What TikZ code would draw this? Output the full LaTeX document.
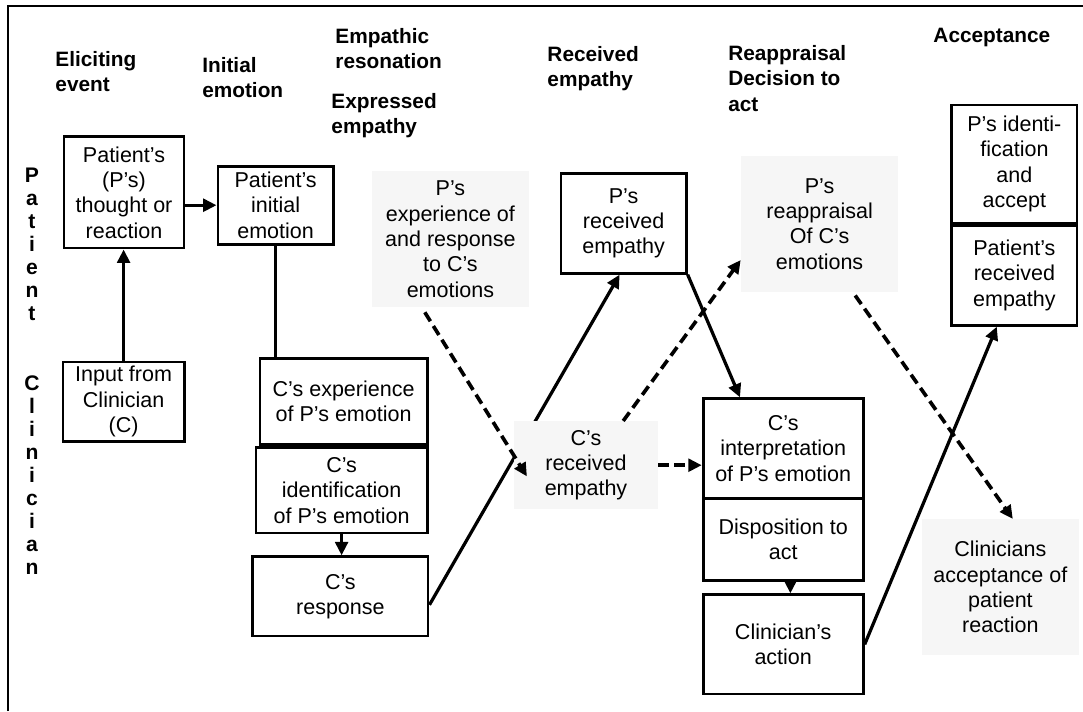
\documentclass[tikz,border=0pt]{standalone}
\usepackage{fontspec}
\setmainfont{Liberation Sans}
\usetikzlibrary{arrows.meta,backgrounds}
\definecolor{shade}{gray}{0.965}
\begin{document}
\begin{tikzpicture}[line cap=butt, line join=miter,
    box/.style={draw, line width=2.1pt, align=center, inner sep=2pt,
      font={\fontsize{15.3}{18}\selectfont}},
    gbox/.style={fill=shade, align=center, inner sep=2pt,
      font={\fontsize{15.3}{18}\selectfont}},
    head/.style={anchor=north west, align=left, inner sep=0pt,
      font={\fontsize{14.8}{18}\selectfont\bfseries}},
    side/.style={align=center, inner sep=0pt,
      font={\fontsize{15}{16.4}\selectfont\bfseries}},
    arr/.style={line width=2.3pt, -{Triangle[length=9.5pt,width=9pt]}},
    ln/.style={line width=2.3pt},
    darr/.style={line width=2.6pt, dash pattern=on 7.5pt off 4pt,
      -{Triangle[length=9.5pt,width=9pt]}}]
  \useasboundingbox (0,0) rectangle (27.075,-17.775);
  \draw[line width=2pt] (0.2,-17.775) -- (0.2,-0.15) -- (27.075,-0.15);
  \node[head] (hElicit) at (1.38,-1.27) {Eliciting\\event};
  \node[head] (hInit) at (5.05,-1.43) {Initial\\emotion};
  \node[head] (hReson) at (8.38,-0.7) {Empathic\\resonation};
  \node[head] (hExpr) at (8.28,-2.33) {Expressed\\empathy};
  \node[head] (hRecv) at (13.68,-1.15) {Received\\empathy};
  \node[head] (hReapp) at (18.2,-1.13) {Reappraisal\\Decision to\\act};
  \node[head] (hAccept) at (23.33,-0.7) {Acceptance};
  \node[side] (pside) at (0.8,-6.1) {P\\a\\t\\i\\e\\n\\t};
  \node[side] (cside) at (0.8,-11.88) {C\\l\\i\\n\\i\\c\\i\\a\\n};
  \node[box, minimum width=3cm, minimum height=2.78cm] (pthought) at (3.1,-4.81)
    {Patient's\\(P's)\\thought or\\reaction};
  \node[box, minimum width=2.88cm, minimum height=1.95cm] (pinit) at (6.89,-5.13)
    {Patient's\\initial\\emotion};
  \node[box, minimum width=3.03cm, minimum height=1.98cm] (cinput) at (3.09,-10.04)
    {Input from\\Clinician\\(C)};
  \node[box, minimum width=4.18cm, minimum height=2.15cm] (cexp) at (8.59,-10.03)
    {C's experience\\of P's emotion};
  \node[box, minimum width=4.28cm, minimum height=2.13cm] (cident) at (8.54,-12.26)
    {C's\\identification\\of P's emotion};
  \node[box, minimum width=4.38cm, minimum height=1.98cm] (cresp) at (8.51,-14.91)
    {C's\\response};
  \node[gbox, minimum width=3.93cm, minimum height=3.4cm] (pexp) at (11.26,-5.98)
    {P's\\experience of\\and response\\to C's\\emotions};
  \node[box, minimum width=3.13cm, minimum height=2.5cm] (prec) at (15.59,-5.58)
    {P's\\received\\empathy};
  \node[gbox, minimum width=3.6cm, minimum height=2.2cm] (crec) at (14.65,-11.63)
    {C's\\received\\empathy};
  \node[gbox, minimum width=3.93cm, minimum height=3.4cm] (preapp) at (20.49,-5.6)
    {P's\\reappraisal\\Of C's\\emotions};
  \node[box, minimum width=3.13cm, minimum height=2.95cm] (pidacc) at (25.36,-4.1)
    {P's identi-\\fication\\and\\accept};
  \node[box, minimum width=3.13cm, minimum height=2.5cm] (precemp) at (25.36,-6.88)
    {Patient's\\received\\empathy};
  \node[box, minimum width=4cm, minimum height=2.48cm] (cinterp) at (19.58,-11.21)
    {C's\\interpretation\\of P's emotion};
  \node[box, minimum width=4cm, minimum height=2.05cm] (cdisp) at (19.58,-13.48)
    {Disposition to\\act};
  \node[box, minimum width=4cm, minimum height=2.48cm] (cact) at (19.58,-16.11)
    {Clinician's\\action};
  \node[gbox, minimum width=3.93cm, minimum height=3.4cm] (cacc) at (25.01,-14.68)
    {Clinicians\\acceptance of\\patient\\reaction};
  \begin{pgfonlayer}{background}
    \draw[arr] ([yshift=-0.21cm]cresp.east) -- ([xshift=-0.1cm]prec.south);
  \end{pgfonlayer}
  \draw[arr] (pthought.east |- pinit.west) -- (pinit.west);
  \draw[arr] (cinput.north) -- (cinput.north |- pthought.south);
  \draw[ln] (pinit.south) -- (pinit.south |- cexp.north);
  \draw[arr] (cident.south) -- (cident.south |- cresp.north);
  \draw[arr] (prec.south east) -- ([xshift=-1.08cm]cinterp.north);
  \draw[darr] ([xshift=-0.64cm,yshift=-0.12cm]pexp.south) -- ([xshift=0.33cm,yshift=-0.28cm]crec.west);
  \draw[darr] ([xshift=0.93cm]crec.north) -- ([yshift=-0.9cm]preapp.west);
  \draw[darr] (crec.east) -- (crec.east -| cinterp.west);
  \draw[darr] ([xshift=0.89cm,yshift=-0.08cm]preapp.south) -- ([xshift=0.31cm]cacc.north);
  \draw[arr] ([xshift=0.18cm]cdisp.south) -- ([xshift=0.18cm]cact.north);
  \draw[arr] (cact.east) -- ([xshift=-0.44cm]precemp.south);
\end{tikzpicture}
\end{document}
